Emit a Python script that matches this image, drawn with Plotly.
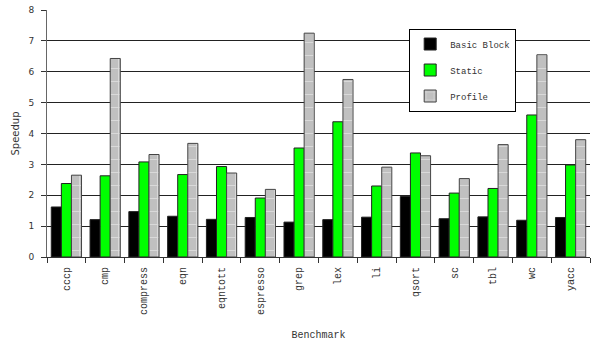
import plotly.graph_objects as go

benchmarks = ["cccp", "cmp", "compress", "eqn", "eqntott", "espresso", "grep",
              "lex", "li", "qsort", "sc", "tbl", "wc", "yacc"]
basic_block = [1.62, 1.21, 1.47, 1.32, 1.22, 1.28, 1.13, 1.21, 1.29, 1.96, 1.24, 1.30, 1.19, 1.28]
static = [2.38, 2.63, 3.08, 2.67, 2.93, 1.91, 3.53, 4.38, 2.30, 3.37, 2.07, 2.22, 4.60, 2.98]
profile = [2.65, 6.43, 3.32, 3.68, 2.72, 2.19, 7.25, 5.75, 2.91, 3.28, 2.54, 3.64, 6.55, 3.80]

mono = "Liberation Mono"
sans = "DejaVu Sans"

fig = go.Figure()
fig.add_trace(go.Bar(name="Basic Block", x=benchmarks, y=basic_block, legendgroup="a",
                     marker=dict(color="black", line=dict(color="#222", width=1))))
fig.add_trace(go.Bar(name="Static", x=benchmarks, y=static, legendgroup="b",
                     marker=dict(color="#00ff00", line=dict(color="#222", width=1))))
fig.add_trace(go.Bar(name="Profile", x=benchmarks, y=profile, legendgroup="c",
                     marker=dict(color="#c0c0c0", line=dict(color="#444", width=1),
                                 pattern=dict(shape="+", fgcolor="white", bgcolor="#c0c0c0",
                                              size=13, solidity=0.12))))

fig.update_layout(
    width=613, height=341,
    margin=dict(l=47, r=23, t=10, b=84),
    paper_bgcolor="white", plot_bgcolor="white",
    barmode="group", bargap=0.22, bargroupgap=0,
    showlegend=True,
    legend=dict(x=0.667, y=0.925, xanchor="left", yanchor="top",
                bgcolor="white", bordercolor="black", borderwidth=1,
                font=dict(family=mono, size=9, color="#333"),
                tracegroupgap=7, itemwidth=30),
    xaxis=dict(
        automargin=False,
        tickangle=-90, tickfont=dict(family=mono, size=10, color="#333"),
        ticks="outside", tickson="boundaries", ticklen=5, tickcolor="#333",
        ticklabelstandoff=5,
        showline=True, linecolor="#333", linewidth=1,
        title=dict(text="Benchmark", font=dict(family=mono, size=10, color="#333"), standoff=16),
        showgrid=False,
    ),
    yaxis=dict(
        automargin=False,
        range=[0, 8], dtick=1, tickfont=dict(family=sans, size=9, color="#333"),
        ticks="outside", ticklen=5, tickcolor="#333",
        ticklabelstandoff=5,
        showline=True, linecolor="#666", linewidth=1,
        showgrid=True, gridcolor="#222", gridwidth=1,
        zeroline=False,
        title=dict(text="Speedup", font=dict(family=sans, size=10, color="#333"), standoff=6),
    ),
)

fig.write_html("out.html")
